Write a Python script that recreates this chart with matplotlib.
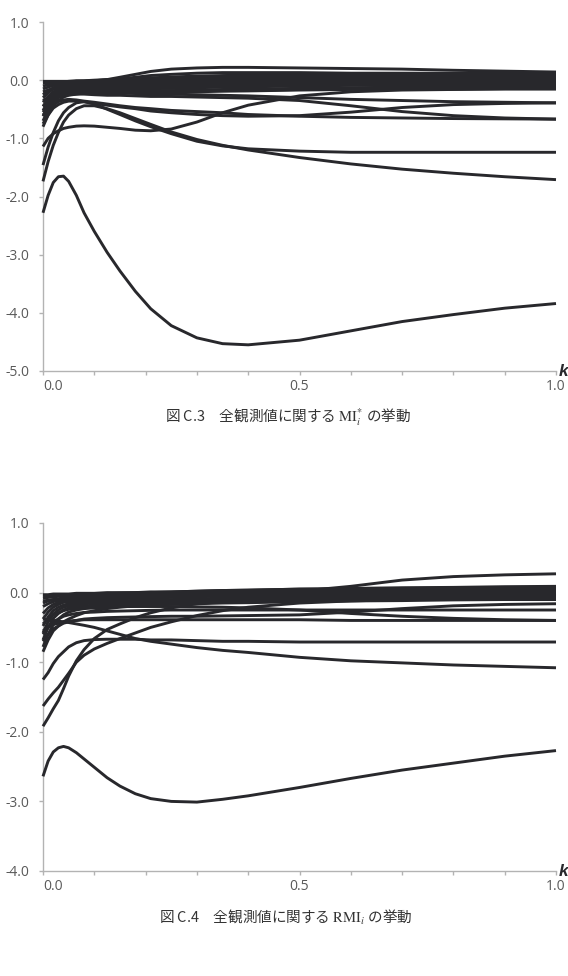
import numpy as np
import matplotlib.pyplot as plt
from matplotlib.ticker import FormatStrFormatter

plt.rcParams['mathtext.fontset'] = 'stix'
plt.rcParams['axes.unicode_minus'] = False

# k values shared by every curve
k = [0, 0.01, 0.02, 0.03, 0.04, 0.05, 0.065, 0.08, 0.1, 0.125, 0.15, 0.18, 0.21, 0.25,
     0.3, 0.35, 0.4, 0.5, 0.6, 0.7, 0.8, 0.9, 1.0]

# ---- fig C.3 : MI*_i ----
mi_band = [
    [-0.04, -0.04, -0.03, -0.03, -0.03, -0.02, -0.02, -0.015, -0.01, 0.01, 0.05, 0.10, 0.15, 0.19, 0.21, 0.22, 0.22, 0.21, 0.20, 0.19, 0.17, 0.155, 0.14],
    [-0.10, -0.08, -0.06, -0.05, -0.045, -0.04, -0.03, -0.025, -0.02, 0.00, 0.02, 0.05, 0.08, 0.10, 0.12, 0.13, 0.13, 0.13, 0.12, 0.12, 0.12, 0.12, 0.12],
    [-0.02, -0.02, -0.02, -0.02, -0.02, -0.02, -0.01, -0.01, 0.00, 0.01, 0.02, 0.03, 0.04, 0.055, 0.07, 0.08, 0.085, 0.10, 0.10, 0.105, 0.11, 0.11, 0.11],
    [-0.05, -0.04, -0.04, -0.035, -0.03, -0.03, -0.02, -0.02, -0.01, 0.00, 0.01, 0.02, 0.025, 0.035, 0.05, 0.06, 0.065, 0.08, 0.08, 0.085, 0.09, 0.09, 0.09],
    [-0.15, -0.12, -0.09, -0.075, -0.06, -0.05, -0.04, -0.03, -0.02, -0.005, 0.00, 0.01, 0.02, 0.03, 0.04, 0.05, 0.055, 0.06, 0.07, 0.07, 0.07, 0.07, 0.07],
    [-0.25, -0.18, -0.13, -0.10, -0.08, -0.07, -0.055, -0.045, -0.03, -0.02, -0.015, 0.00, 0.005, 0.01, 0.02, 0.03, 0.035, 0.04, 0.05, 0.05, 0.05, 0.05, 0.05],
    [-0.30, -0.22, -0.15, -0.11, -0.09, -0.08, -0.065, -0.055, -0.05, -0.045, -0.04, -0.03, -0.025, -0.02, -0.01, 0.00, 0.005, 0.02, 0.02, 0.025, 0.03, 0.03, 0.03],
    [-0.38, -0.28, -0.20, -0.15, -0.12, -0.11, -0.09, -0.08, -0.07, -0.065, -0.06, -0.05, -0.045, -0.04, -0.03, -0.02, -0.015, 0.00, 0.00, 0.005, 0.01, 0.01, 0.01],
    [-0.45, -0.33, -0.24, -0.18, -0.15, -0.13, -0.115, -0.10, -0.09, -0.085, -0.08, -0.07, -0.065, -0.06, -0.05, -0.04, -0.035, -0.03, -0.02, -0.02, -0.015, -0.01, -0.01],
    [-0.52, -0.38, -0.28, -0.21, -0.18, -0.16, -0.14, -0.13, -0.12, -0.115, -0.11, -0.10, -0.095, -0.09, -0.08, -0.07, -0.065, -0.05, -0.045, -0.04, -0.035, -0.03, -0.03],
    [-0.62, -0.45, -0.33, -0.26, -0.21, -0.19, -0.17, -0.155, -0.14, -0.135, -0.13, -0.12, -0.115, -0.11, -0.10, -0.09, -0.085, -0.07, -0.065, -0.06, -0.055, -0.05, -0.05],
    [-0.70, -0.52, -0.38, -0.30, -0.25, -0.22, -0.20, -0.18, -0.17, -0.165, -0.16, -0.15, -0.145, -0.14, -0.13, -0.12, -0.115, -0.10, -0.09, -0.085, -0.08, -0.08, -0.08],
    [-0.80, -0.60, -0.44, -0.35, -0.29, -0.26, -0.24, -0.22, -0.21, -0.205, -0.20, -0.19, -0.185, -0.18, -0.17, -0.16, -0.155, -0.14, -0.13, -0.12, -0.11, -0.105, -0.10],
    [-0.20, -0.17, -0.15, -0.145, -0.14, -0.14, -0.145, -0.15, -0.16, -0.165, -0.17, -0.18, -0.18, -0.18, -0.18, -0.18, -0.175, -0.16, -0.15, -0.145, -0.14, -0.13, -0.12],
    [-0.55, -0.42, -0.32, -0.27, -0.24, -0.22, -0.21, -0.205, -0.20, -0.20, -0.20, -0.20, -0.20, -0.20, -0.20, -0.19, -0.185, -0.17, -0.16, -0.16, -0.155, -0.15, -0.15],
]
mi_mid = [
    [-1.14, -1.00, -0.92, -0.87, -0.83, -0.81, -0.79, -0.785, -0.79, -0.81, -0.83, -0.86, -0.87, -0.84, -0.72, -0.56, -0.43, -0.27, -0.20, -0.17, -0.16, -0.15, -0.15],
    [-0.75, -0.60, -0.48, -0.42, -0.38, -0.36, -0.36, -0.37, -0.40, -0.43, -0.46, -0.49, -0.53, -0.56, -0.59, -0.61, -0.62, -0.61, -0.55, -0.47, -0.42, -0.40, -0.39],
    [-0.60, -0.50, -0.42, -0.37, -0.34, -0.33, -0.34, -0.36, -0.38, -0.41, -0.44, -0.47, -0.49, -0.52, -0.54, -0.56, -0.59, -0.62, -0.64, -0.65, -0.66, -0.665, -0.67],
    [-0.45, -0.38, -0.32, -0.28, -0.26, -0.25, -0.24, -0.24, -0.25, -0.26, -0.26, -0.27, -0.28, -0.28, -0.29, -0.30, -0.31, -0.35, -0.44, -0.54, -0.61, -0.65, -0.67],
    [-0.35, -0.30, -0.26, -0.23, -0.21, -0.20, -0.20, -0.20, -0.21, -0.22, -0.22, -0.23, -0.24, -0.24, -0.25, -0.26, -0.27, -0.30, -0.33, -0.35, -0.37, -0.38, -0.39],
    [-1.46, -1.15, -0.90, -0.70, -0.56, -0.47, -0.39, -0.37, -0.41, -0.50, -0.59, -0.70, -0.80, -0.92, -1.05, -1.13, -1.18, -1.22, -1.24, -1.24, -1.24, -1.24, -1.24],
    [-1.74, -1.40, -1.12, -0.90, -0.72, -0.60, -0.49, -0.44, -0.44, -0.49, -0.56, -0.66, -0.76, -0.89, -1.02, -1.12, -1.20, -1.33, -1.44, -1.53, -1.60, -1.66, -1.71],
]
mi_low = [-2.28, -1.98, -1.76, -1.66, -1.65, -1.74, -1.98, -2.28, -2.60, -2.96, -3.28, -3.63, -3.93, -4.22, -4.43, -4.53, -4.55, -4.47, -4.31, -4.15, -4.03, -3.92, -3.84]

# ---- fig C.4 : RMI_i ----
rmi_band = [
    [-0.05, -0.04, -0.04, -0.035, -0.03, -0.03, -0.025, -0.02, -0.02, -0.015, -0.01, -0.01, -0.005, 0.00, 0.00, 0.005, 0.01, 0.02, 0.09, 0.18, 0.23, 0.255, 0.27],
    [-0.03, -0.03, -0.02, -0.02, -0.02, -0.02, -0.01, -0.01, -0.01, 0.00, 0.00, 0.00, 0.01, 0.01, 0.02, 0.03, 0.035, 0.05, 0.06, 0.07, 0.075, 0.085, 0.09],
    [-0.08, -0.07, -0.06, -0.055, -0.05, -0.04, -0.035, -0.03, -0.02, -0.015, -0.01, 0.00, 0.00, 0.01, 0.02, 0.03, 0.035, 0.05, 0.05, 0.06, 0.065, 0.07, 0.07],
    [-0.15, -0.12, -0.10, -0.09, -0.07, -0.06, -0.05, -0.045, -0.04, -0.035, -0.03, -0.02, -0.015, -0.01, 0.00, 0.01, 0.015, 0.03, 0.04, 0.04, 0.045, 0.05, 0.05],
    [-0.20, -0.16, -0.13, -0.11, -0.09, -0.08, -0.07, -0.065, -0.06, -0.055, -0.05, -0.04, -0.035, -0.03, -0.02, -0.01, -0.005, 0.01, 0.02, 0.02, 0.025, 0.03, 0.03],
    [-0.30, -0.22, -0.17, -0.14, -0.12, -0.11, -0.095, -0.085, -0.08, -0.075, -0.07, -0.06, -0.055, -0.05, -0.04, -0.03, -0.025, -0.01, 0.00, 0.00, 0.005, 0.01, 0.01],
    [-0.38, -0.28, -0.21, -0.17, -0.14, -0.13, -0.115, -0.105, -0.10, -0.095, -0.09, -0.08, -0.075, -0.07, -0.06, -0.05, -0.045, -0.03, -0.02, -0.02, -0.015, -0.01, -0.01],
    [-0.48, -0.35, -0.26, -0.21, -0.18, -0.16, -0.145, -0.135, -0.13, -0.125, -0.12, -0.11, -0.105, -0.10, -0.09, -0.08, -0.075, -0.06, -0.05, -0.045, -0.04, -0.035, -0.03],
    [-0.58, -0.42, -0.31, -0.25, -0.21, -0.19, -0.17, -0.16, -0.15, -0.145, -0.14, -0.13, -0.125, -0.12, -0.11, -0.10, -0.095, -0.08, -0.07, -0.065, -0.06, -0.055, -0.05],
    [-0.68, -0.50, -0.37, -0.30, -0.25, -0.22, -0.20, -0.19, -0.18, -0.175, -0.17, -0.16, -0.155, -0.15, -0.14, -0.13, -0.125, -0.11, -0.10, -0.095, -0.085, -0.08, -0.08],
    [-0.78, -0.60, -0.46, -0.38, -0.32, -0.28, -0.25, -0.23, -0.22, -0.21, -0.20, -0.185, -0.175, -0.17, -0.16, -0.15, -0.145, -0.13, -0.12, -0.115, -0.105, -0.10, -0.10],
    [-0.12, -0.11, -0.10, -0.10, -0.10, -0.10, -0.11, -0.115, -0.12, -0.13, -0.135, -0.14, -0.14, -0.14, -0.14, -0.14, -0.135, -0.12, -0.11, -0.10, -0.095, -0.09, -0.09],
    [-0.85, -0.68, -0.55, -0.48, -0.42, -0.38, -0.33, -0.29, -0.26, -0.23, -0.21, -0.19, -0.17, -0.15, -0.12, -0.10, -0.09, -0.06, -0.05, -0.04, -0.03, -0.025, -0.02],
]
rmi_mid = [
    [-0.55, -0.50, -0.46, -0.44, -0.42, -0.41, -0.40, -0.39, -0.39, -0.39, -0.39, -0.39, -0.39, -0.39, -0.39, -0.39, -0.39, -0.39, -0.40, -0.40, -0.40, -0.40, -0.40],
    [-0.60, -0.50, -0.42, -0.38, -0.34, -0.32, -0.30, -0.285, -0.28, -0.27, -0.265, -0.26, -0.255, -0.25, -0.25, -0.25, -0.25, -0.25, -0.25, -0.25, -0.25, -0.25, -0.25],
    [-0.70, -0.60, -0.52, -0.48, -0.44, -0.42, -0.40, -0.38, -0.37, -0.36, -0.355, -0.35, -0.345, -0.34, -0.34, -0.335, -0.33, -0.32, -0.28, -0.23, -0.19, -0.17, -0.16],
    [-0.45, -0.38, -0.32, -0.29, -0.26, -0.24, -0.225, -0.215, -0.21, -0.20, -0.20, -0.20, -0.20, -0.20, -0.205, -0.21, -0.22, -0.25, -0.30, -0.34, -0.37, -0.39, -0.40],
    [-0.38, -0.39, -0.40, -0.41, -0.42, -0.43, -0.45, -0.47, -0.50, -0.55, -0.60, -0.66, -0.70, -0.74, -0.79, -0.83, -0.86, -0.93, -0.98, -1.01, -1.04, -1.06, -1.08],
    [-1.25, -1.15, -1.02, -0.92, -0.85, -0.78, -0.72, -0.69, -0.675, -0.67, -0.67, -0.67, -0.68, -0.68, -0.69, -0.70, -0.70, -0.71, -0.71, -0.71, -0.71, -0.71, -0.71],
    [-1.63, -1.53, -1.44, -1.36, -1.26, -1.16, -1.00, -0.90, -0.81, -0.73, -0.66, -0.58, -0.50, -0.42, -0.33, -0.26, -0.21, -0.15, -0.12, -0.10, -0.09, -0.085, -0.08],
    [-1.92, -1.80, -1.67, -1.55, -1.38, -1.20, -0.98, -0.82, -0.66, -0.53, -0.45, -0.36, -0.29, -0.22, -0.16, -0.13, -0.10, -0.07, -0.05, -0.03, -0.02, -0.015, -0.01],
]
rmi_low = [-2.64, -2.42, -2.29, -2.23, -2.21, -2.23, -2.30, -2.39, -2.51, -2.66, -2.78, -2.89, -2.96, -3.00, -3.01, -2.97, -2.92, -2.80, -2.67, -2.55, -2.45, -2.35, -2.27]

line_col = '#28282c'
axis_col = '#b3b3b3'
label_col = '#595959'

fig = plt.figure(figsize=(5.68, 9.76), dpi=100)
ax1 = fig.add_axes([43 / 568, 1 - 371 / 976, 513 / 568, 349 / 976])
ax2 = fig.add_axes([43 / 568, 1 - 871 / 976, 513 / 568, 348 / 976])


def draw(ax, curves, ymin):
    for c in curves:
        ax.plot(k, c, color=line_col, lw=2.1, solid_capstyle='butt',
                solid_joinstyle='round', clip_on=False)
    ax.set_xlim(0, 1)
    ax.set_ylim(ymin, 1)
    ax.set_yticks(list(range(ymin, 2)))
    ax.yaxis.set_major_formatter(FormatStrFormatter('%.1f'))
    ax.set_xticks([0, 0.5, 1.0])
    ax.set_xticks(np.arange(0, 1.01, 0.1), minor=True)
    ax.xaxis.set_major_formatter(FormatStrFormatter('%.1f'))
    for s in ['top', 'right']:
        ax.spines[s].set_visible(False)
    for s in ['left', 'bottom']:
        ax.spines[s].set_color(axis_col)
        ax.spines[s].set_linewidth(1.0)
        ax.spines[s].set_zorder(0.5)
    ax.tick_params(which='both', direction='out', length=3, width=1.0,
                   color=axis_col, labelcolor=label_col, labelsize=10)
    ax.tick_params(axis='y', pad=7)
    ax.tick_params(axis='x', pad=3)
    for t in ax.get_xticklabels() + ax.get_yticklabels():
        t.set_family('Open Sans')
    ax.get_xticklabels()[0].set_horizontalalignment('left')
    ax.text(1.006, 0.0, 'k', transform=ax.transAxes, ha='left', va='center',
            fontsize=12.5, fontweight='bold', fontstyle='italic',
            family='Liberation Sans', color=line_col, clip_on=False)


draw(ax1, mi_band + mi_mid + [mi_low], -5)
draw(ax2, rmi_band + rmi_mid + [rmi_low], -4)

cap_font = ['Noto Sans CJK JP', 'DejaVu Sans']
fig.text(288 / 568, 1 - 417 / 976, '図 C.3\u3000全観測値に関する $\\mathrm{MI}_{i}^{*}$ の挙動',
         ha='center', va='center', fontsize=10.5, family=cap_font, color='#333333')
fig.text(286 / 568, 1 - 917 / 976, '図 C.4\u3000全観測値に関する $\\mathrm{RMI}_{i}$ の挙動',
         ha='center', va='center', fontsize=10.5, family=cap_font, color='#333333')

fig.savefig('out.png', dpi=100)
